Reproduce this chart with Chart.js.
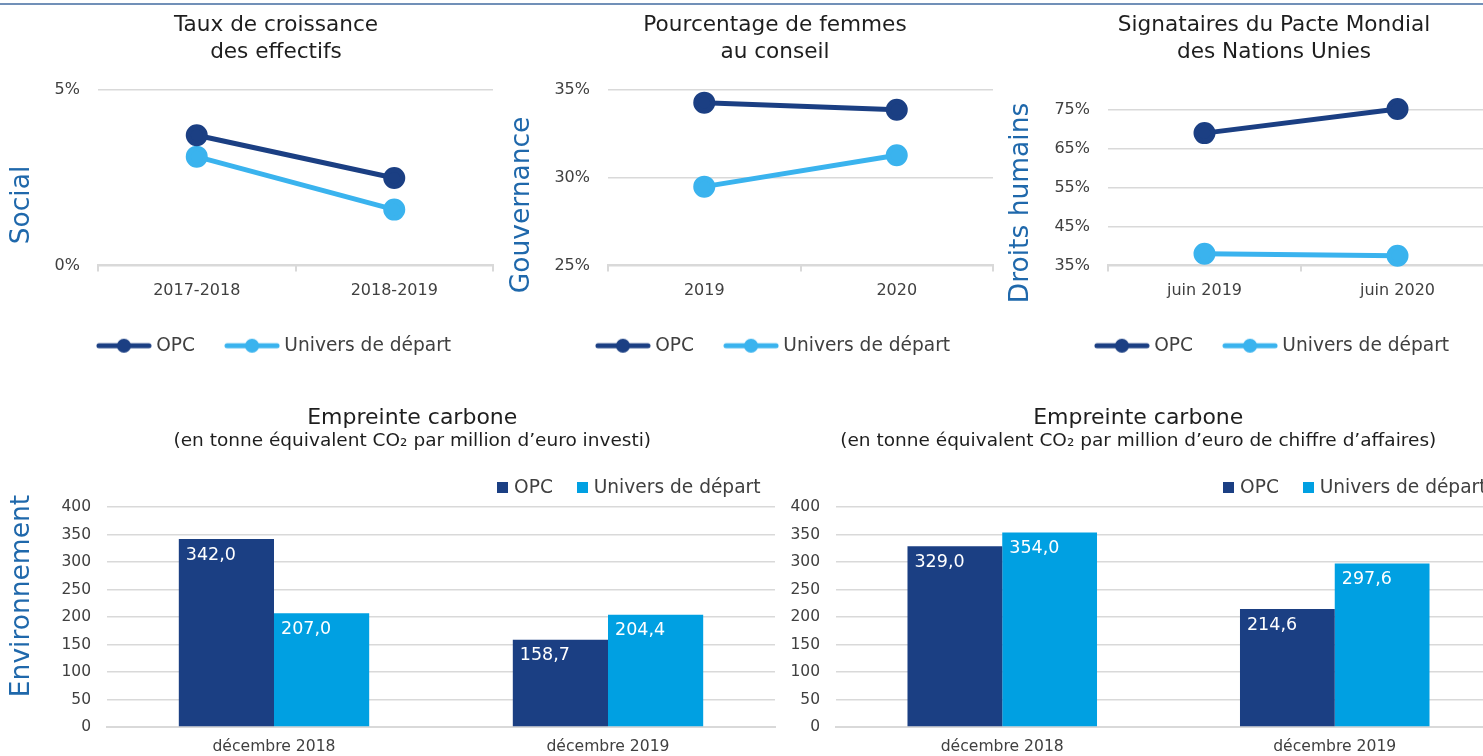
<!DOCTYPE html>
<html lang="fr">
<head>
<meta charset="utf-8">
<title>Indicateurs ESG</title>
<script src="https://cdn.jsdelivr.net/npm/chart.js@4"></script>
<style>
  html, body { margin: 0; padding: 0; background: #fff; overflow: hidden; }
  #page { position: relative; width: 1483px; height: 756px; overflow: hidden; }
  #topRule { position: absolute; left: 0; top: 3px; width: 1483px; height: 2px; background: #7190b8; }
  canvas { position: absolute; }
</style>
</head>
<body>
<div id="page">
  <div id="topRule"></div>
  <canvas id="social" width="552" height="365" style="left:0px;top:0px;width:552px;height:365px"></canvas>
  <canvas id="gouv" width="552" height="365" style="left:499px;top:0px;width:552px;height:365px"></canvas>
  <canvas id="droits" width="552" height="365" style="left:998px;top:0px;width:552px;height:365px"></canvas>
  <canvas id="carbonInv" width="788" height="366" style="left:0px;top:390px;width:788px;height:366px"></canvas>
  <canvas id="carbonCa" width="788" height="366" style="left:726px;top:390px;width:788px;height:366px"></canvas>
</div>
<script>
// series names
var seriesNames = ["OPC", "Univers de départ"];

// Social - taux de croissance des effectifs (%)
var socialLabels = ["2017-2018", "2018-2019"];
var socialOpc = [3.71, 2.49];
var socialUnivers = [3.10, 1.59];

// Gouvernance - pourcentage de femmes au conseil (%)
var gouvLabels = ["2019", "2020"];
var gouvOpc = [34.28, 33.87];
var gouvUnivers = [29.49, 31.28];

// Droits humains - signataires du Pacte Mondial (%)
var droitsLabels = ["juin 2019", "juin 2020"];
var droitsOpc = [69.05, 75.26];
var droitsUnivers = [37.98, 37.48];

// Environnement - empreinte carbone
var carbonLabels = ["décembre 2018", "décembre 2019"];
var carbonInvOpc = [342.0, 158.7];
var carbonInvUnivers = [207.0, 204.4];
var carbonCaOpc = [329.0, 214.6];
var carbonCaUnivers = [354.0, 297.6];

var navy = "#1b3f83";
var sky = "#3ab3ee";
var barSky = "#00a0e2";
var axisBlue = "#1f68ab";
var gridGrey = "#d9d9d9";
var textGrey = "#404040";
var FONT = '"DejaVu Sans", sans-serif';

Chart.defaults.font.family = FONT;
Chart.defaults.color = textGrey;
Chart.defaults.animation = false;

// rotated side title (Social, Gouvernance, ...)
var sideTitle = {
  id: "sideTitle",
  afterDraw: function(chart, args, opts) {
    if (!opts.text) return;
    var ctx = chart.ctx;
    ctx.save();
    ctx.translate(opts.x, opts.y);
    ctx.rotate(-Math.PI / 2);
    ctx.font = "26.5px " + FONT;
    ctx.fillStyle = axisBlue;
    ctx.textAlign = "center";
    ctx.textBaseline = "middle";
    ctx.fillText(opts.text, 0, 0);
    ctx.restore();
  }
};

// white values inside the bars, top-left
var barValues = {
  id: "barValues",
  afterDatasetsDraw: function(chart, args, opts) {
    if (!opts.enabled) return;
    var ctx = chart.ctx;
    ctx.save();
    ctx.font = "17.5px " + FONT;
    ctx.fillStyle = "#ffffff";
    ctx.textAlign = "left";
    ctx.textBaseline = "middle";
    chart.data.datasets.forEach(function(ds, i) {
      chart.getDatasetMeta(i).data.forEach(function(bar, j) {
        var txt = ds.data[j].toFixed(1).replace(".", ",");
        ctx.fillText(txt, bar.x - bar.width / 2 + 7, bar.y + 16);
      });
    });
    ctx.restore();
  }
};

Chart.register(sideTitle, barValues);

function lineSwatch(color) {
  var c = document.createElement("canvas");
  c.width = 56; c.height = 18;
  var g = c.getContext("2d");
  g.strokeStyle = color; g.lineWidth = 5; g.lineCap = "round";
  g.beginPath(); g.moveTo(3, 9); g.lineTo(53, 9); g.stroke();
  g.fillStyle = color;
  g.beginPath(); g.arc(28, 9, 7, 0, Math.PI * 2); g.fill();
  return c;
}

function squareSwatch(color) {
  var c = document.createElement("canvas");
  c.width = 11; c.height = 11;
  var g = c.getContext("2d");
  g.fillStyle = color; g.fillRect(0, 0, 11, 11);
  return c;
}

var lineSwatches = [lineSwatch(navy), lineSwatch(sky)];
var squareSwatches = [squareSwatch(navy), squareSwatch(barSky)];

function makeLineChart(id, title, side, labels, opc, univ, yMin, yMax, yStep, yWidth, rightWidth, titleGap) {
  new Chart(document.getElementById(id), {
    type: "line",
    data: {
      labels: labels,
      datasets: [
        { label: seriesNames[0], data: opc, borderColor: navy, backgroundColor: navy,
          borderWidth: 5, pointRadius: 8.5, pointHoverRadius: 8.5, clip: false },
        { label: seriesNames[1], data: univ, borderColor: sky, backgroundColor: sky,
          borderWidth: 5, pointRadius: 8.5, pointHoverRadius: 8.5, clip: false }
      ]
    },
    options: {
      responsive: false,
      layout: { padding: 0 },
      plugins: {
        title: {
          display: true,
          text: title,
          color: "#1e1e1e",
          font: { size: 21.6, weight: "normal", lineHeight: 27 / 21.6 },
          padding: { top: 11.5, bottom: titleGap }
        },
        legend: {
          position: "bottom",
          labels: {
            usePointStyle: true,
            pointStyleWidth: 46,
            padding: 34,
            color: textGrey,
            font: { size: 18.6 },
            generateLabels: function(chart) {
              return Chart.defaults.plugins.legend.labels.generateLabels(chart).map(function(l, i) {
                l.pointStyle = lineSwatches[i];
                return l;
              });
            }
          }
        },
        tooltip: { enabled: false },
        sideTitle: side
      },
      scales: {
        x: {
          offset: true,
          grid: { offset: true, drawOnChartArea: false, drawTicks: true, tickLength: 6, color: gridGrey, lineWidth: 2 },
          border: { color: gridGrey, width: 2 },
          ticks: { padding: 10, color: textGrey, font: { size: 16 } },
          afterFit: function(s) { s.height = 37; }
        },
        y: {
          min: yMin, max: yMax,
          ticks: { stepSize: yStep, padding: 18, color: textGrey, font: { size: 16 },
                   callback: function(v) { return v + "%"; } },
          grid: { color: gridGrey, lineWidth: 1.5, drawTicks: false },
          border: { display: false },
          afterFit: function(s) { s.width = yWidth; }
        },
        yr: {
          position: "right",
          grid: { display: false },
          ticks: { display: false },
          border: { display: false },
          afterFit: function(s) { s.width = rightWidth; }
        }
      }
    }
  });
}

function makeBarChart(id, subtitle, side, opc, univ, yWidth) {
  new Chart(document.getElementById(id), {
    type: "bar",
    data: {
      labels: carbonLabels,
      datasets: [
        { label: seriesNames[0], data: opc, backgroundColor: navy },
        { label: seriesNames[1], data: univ, backgroundColor: barSky }
      ]
    },
    options: {
      responsive: false,
      layout: { padding: { left: 36.5, right: 0, top: 0, bottom: 0 } },
      categoryPercentage: 0.57,
      barPercentage: 1.0,
      plugins: {
        title: {
          display: true,
          text: "Empreinte carbone",
          color: "#1e1e1e",
          font: { size: 22, weight: "normal", lineHeight: 1.2 },
          padding: { top: 14.8, bottom: 0 }
        },
        subtitle: {
          display: true,
          text: subtitle,
          color: "#1e1e1e",
          font: { size: 18.5, weight: "normal", lineHeight: 19.8 / 18.5 },
          padding: { top: 0, bottom: 0 }
        },
        legend: {
          position: "top",
          align: "end",
          labels: {
            usePointStyle: true,
            pointStyleWidth: 4,
            padding: 27.5,
            color: textGrey,
            font: { size: 18.6 },
            generateLabels: function(chart) {
              return Chart.defaults.plugins.legend.labels.generateLabels(chart).map(function(l, i) {
                l.pointStyle = squareSwatches[i];
                return l;
              });
            }
          }
        },
        tooltip: { enabled: false },
        sideTitle: side,
        barValues: { enabled: true }
      },
      scales: {
        x: {
          grid: { display: false },
          border: { color: gridGrey, width: 2 },
          ticks: { padding: 3, color: textGrey, font: { size: 15.6 } },
          afterFit: function(s) { s.height = 29; }
        },
        y: {
          min: 0, max: 400,
          ticks: { stepSize: 50, padding: 16, color: textGrey, font: { size: 15.5 } },
          grid: { color: gridGrey, lineWidth: 1.5, drawTicks: false },
          border: { display: false },
          afterFit: function(s) { s.width = yWidth; }
        },
        yr: {
          position: "right",
          grid: { display: false },
          ticks: { display: false },
          border: { display: false },
          afterFit: function(s) { s.width = 13; }
        }
      }
    }
  });
}

makeLineChart("social", ["Taux de croissance", "des effectifs"],
  { text: "Social", x: 22, y: 205 },
  socialLabels, socialOpc, socialUnivers, 0, 5, 5, 98, 59, 24.5);

makeLineChart("gouv", ["Pourcentage de femmes", "au conseil"],
  { text: "Gouvernance", x: 23, y: 205 },
  gouvLabels, gouvOpc, gouvUnivers, 25, 35, 5, 109, 58, 24.5);

makeLineChart("droits", ["Signataires du Pacte Mondial", "des Nations Unies"],
  { text: "Droits humains", x: 23, y: 203 },
  droitsLabels, droitsOpc, droitsUnivers, 35, 75, 10, 110, 56, 44.5);

makeBarChart("carbonInv", "(en tonne équivalent CO₂ par million d’euro investi)",
  { text: "Environnement", x: 22, y: 206 },
  carbonInvOpc, carbonInvUnivers, 70.5);

makeBarChart("carbonCa", "(en tonne équivalent CO₂ par million d’euro de chiffre d’affaires)",
  {},
  carbonCaOpc, carbonCaUnivers, 73.5);
</script>
</body>
</html>
